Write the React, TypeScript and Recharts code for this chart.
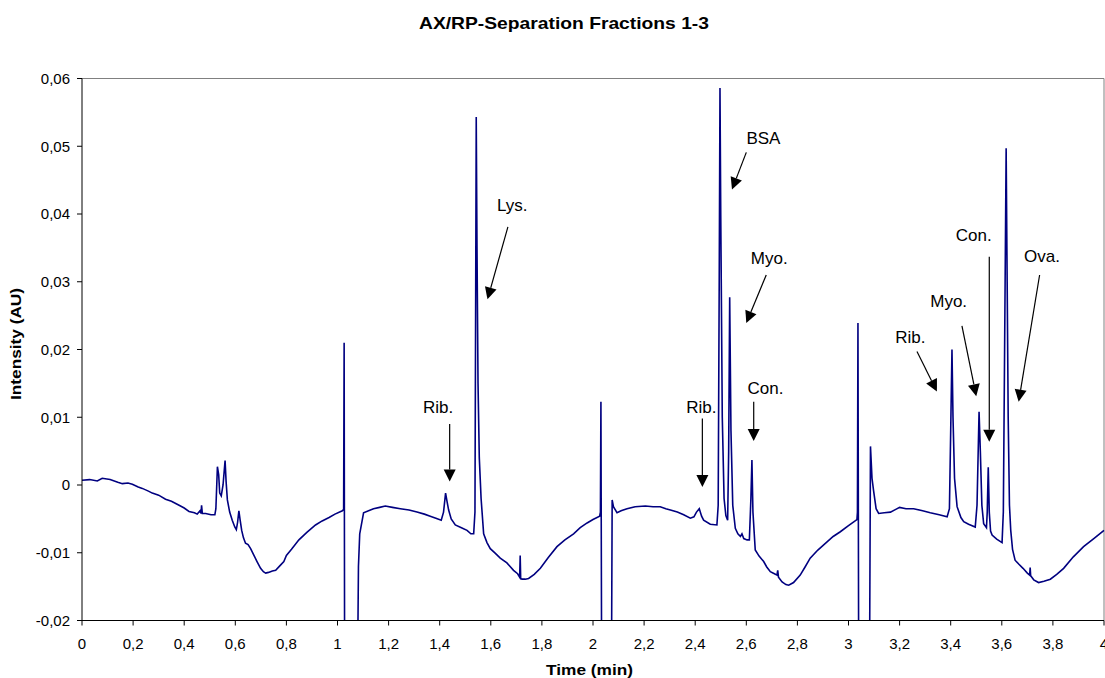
import React from 'react';
import { LineChart, Line, XAxis, YAxis, ReferenceLine, ReferenceDot } from 'recharts';

// [time (min), intensity (AU)], split at the injection spikes
const fraction1: [number, number][] = [
  [0, 0.0007], [0.03, 0.0008], [0.06, 0.0006], [0.079, 0.001], [0.11, 0.0008], [0.14, 0.0004],
  [0.158, 0.0002], [0.18, 0.0003], [0.197, 0.0001], [0.22, -0.0003], [0.236, -0.0005], [0.26, -0.0009],
  [0.275, -0.0012], [0.3, -0.0015], [0.327, -0.0021], [0.35, -0.0024], [0.38, -0.003], [0.4, -0.0034],
  [0.419, -0.0039], [0.44, -0.0041], [0.451, -0.0043], [0.462, -0.0038], [0.466, -0.0042], [0.468, -0.003],
  [0.471, -0.0042], [0.484, -0.0042], [0.505, -0.0044], [0.52, -0.0044], [0.524, -0.0035], [0.53, 0.0027],
  [0.535, 0.0015], [0.539, -0.0012], [0.545, -0.0016], [0.552, 0.0], [0.56, 0.0036], [0.564, 0.0005],
  [0.569, -0.0022], [0.578, -0.004], [0.588, -0.0052], [0.598, -0.0062], [0.604, -0.0066], [0.609, -0.0055],
  [0.614, -0.0038], [0.619, -0.0052], [0.625, -0.0067], [0.632, -0.0078], [0.64, -0.0086], [0.65, -0.0088],
  [0.66, -0.0094], [0.673, -0.0104], [0.685, -0.0113], [0.699, -0.0123], [0.71, -0.0128], [0.719, -0.013],
  [0.73, -0.0129], [0.745, -0.0127], [0.758, -0.0126], [0.775, -0.0119], [0.79, -0.0113], [0.8, -0.0104],
  [0.82, -0.0095], [0.849, -0.0081], [0.88, -0.007], [0.914, -0.0059], [0.94, -0.0053], [0.967, -0.0048],
  [0.99, -0.0043], [1.019, -0.0038], [1.024, -0.0036], [1.026, 0.021], [1.028, -0.03],
];

const fraction2: [number, number][] = [
  [1.078, -0.03], [1.082, -0.012], [1.087, -0.0072], [1.102, -0.0041], [1.141, -0.0035], [1.165, -0.0033],
  [1.187, -0.0031], [1.215, -0.0033], [1.246, -0.0035], [1.28, -0.0037], [1.311, -0.004], [1.34, -0.0043],
  [1.363, -0.0046], [1.385, -0.0049], [1.406, -0.0052], [1.415, -0.004], [1.423, -0.0012], [1.429, -0.0025],
  [1.435, -0.0037], [1.445, -0.005], [1.461, -0.0059], [1.485, -0.0063], [1.507, -0.0067], [1.522, -0.0072],
  [1.533, -0.0072], [1.538, -0.004], [1.541, 0.03], [1.543, 0.0543], [1.546, 0.035], [1.55, 0.015],
  [1.555, 0.004], [1.562, -0.002], [1.572, -0.0072], [1.585, -0.0085], [1.598, -0.0094], [1.618, -0.0101],
  [1.637, -0.0108], [1.663, -0.0115], [1.689, -0.0126], [1.705, -0.0131], [1.713, -0.0136], [1.715, -0.0104],
  [1.717, -0.0138], [1.722, -0.0139], [1.735, -0.0139], [1.748, -0.0138], [1.77, -0.0132], [1.794, -0.0123],
  [1.825, -0.0107], [1.859, -0.0091], [1.89, -0.0081], [1.924, -0.0072], [1.95, -0.0063], [1.977, -0.0056],
  [2.0, -0.0051], [2.026, -0.0046], [2.029, -0.004], [2.031, 0.0123], [2.034, -0.03],
];

const fraction3: [number, number][] = [
  [2.072, -0.03], [2.075, -0.0022], [2.08, -0.0032], [2.094, -0.0041], [2.11, -0.0038], [2.133, -0.0035],
  [2.165, -0.0032], [2.205, -0.0031], [2.235, -0.0032], [2.263, -0.0032], [2.285, -0.0035], [2.303, -0.0037],
  [2.33, -0.004], [2.355, -0.0044], [2.381, -0.0049], [2.395, -0.0047], [2.405, -0.004], [2.416, -0.0035],
  [2.425, -0.0046], [2.433, -0.0052], [2.459, -0.0058], [2.485, -0.0059], [2.49, -0.003], [2.494, 0.03],
  [2.497, 0.0586], [2.5, 0.04], [2.506, 0.01], [2.513, -0.002], [2.52, -0.0045], [2.527, -0.0052],
  [2.531, 0.005], [2.535, 0.0277], [2.54, 0.008], [2.547, -0.003], [2.557, -0.0064], [2.567, -0.0072],
  [2.577, -0.0076], [2.583, -0.0072], [2.59, -0.0079], [2.603, -0.0081], [2.612, -0.0081], [2.618, -0.002],
  [2.622, 0.0037], [2.626, -0.004], [2.635, -0.0096], [2.65, -0.0105], [2.668, -0.0113], [2.68, -0.0121],
  [2.694, -0.0128], [2.71, -0.0131], [2.72, -0.0133], [2.723, -0.0126], [2.726, -0.0136], [2.74, -0.0143],
  [2.755, -0.0147], [2.766, -0.0148], [2.785, -0.0144], [2.811, -0.0133], [2.83, -0.0121], [2.85, -0.0108],
  [2.88, -0.0096], [2.916, -0.0084], [2.94, -0.0076], [2.968, -0.0069], [3.0, -0.006], [3.033, -0.0051],
  [3.035, -0.004], [3.037, 0.0239], [3.04, -0.03],
];

const fraction4: [number, number][] = [
  [3.082, -0.03], [3.086, 0.0057], [3.092, 0.001], [3.098, -0.0008], [3.108, -0.0035], [3.118, -0.0042],
  [3.14, -0.0041], [3.164, -0.004], [3.185, -0.0036], [3.2, -0.0033], [3.225, -0.0035], [3.255, -0.0035],
  [3.29, -0.0038], [3.32, -0.0041], [3.355, -0.0044], [3.386, -0.0047], [3.395, -0.0035], [3.4, 0.008],
  [3.405, 0.02], [3.409, 0.01], [3.415, 0.001], [3.425, -0.0032], [3.44, -0.0048], [3.451, -0.0054],
  [3.47, -0.0058], [3.496, -0.0062], [3.503, -0.003], [3.511, 0.0108], [3.516, 0.005], [3.522, -0.003],
  [3.529, -0.0057], [3.54, -0.0063], [3.543, -0.004], [3.547, 0.0026], [3.551, -0.004], [3.556, -0.0068],
  [3.562, -0.0074], [3.58, -0.008], [3.601, -0.0085], [3.606, -0.004], [3.611, 0.02], [3.617, 0.0497],
  [3.621, 0.03], [3.625, 0.01], [3.63, -0.003], [3.635, -0.0067], [3.642, -0.0095], [3.652, -0.0111],
  [3.667, -0.0117], [3.683, -0.0123], [3.7, -0.013], [3.709, -0.0133], [3.711, -0.0122], [3.713, -0.0134],
  [3.725, -0.014], [3.744, -0.0144], [3.765, -0.0142], [3.79, -0.0139], [3.815, -0.0132], [3.842, -0.0123],
  [3.88, -0.0106], [3.92, -0.0091], [3.96, -0.0079], [4.0, -0.0067],
];

const xTicks = [0, 0.2, 0.4, 0.6, 0.8, 1, 1.2, 1.4, 1.6, 1.8, 2, 2.2, 2.4, 2.6, 2.8, 3, 3.2, 3.4, 3.6, 3.8, 4];
const yTicks = [-0.02, -0.01, 0, 0.01, 0.02, 0.03, 0.04, 0.05, 0.06];

// peak annotations: label centre, arrow tail, arrow tip (time, intensity)
const peakNotes = [
  { label: 'Rib.', text: [1.394, 0.0115], from: [1.439, 0.009], to: [1.439, 0.0005] },
  { label: 'Lys.', text: [1.684, 0.0412], from: [1.667, 0.0381], to: [1.587, 0.0274] },
  { label: 'BSA', text: [2.667, 0.0511], from: [2.6, 0.0491], to: [2.544, 0.0436] },
  { label: 'Myo.', text: [2.69, 0.0335], from: [2.678, 0.031], to: [2.6, 0.0239] },
  { label: 'Con.', text: [2.675, 0.0143], from: [2.629, 0.0123], to: [2.629, 0.0065] },
  { label: 'Rib.', text: [2.424, 0.0115], from: [2.428, 0.0098], to: [2.428, -0.0003] },
  { label: 'Rib.', text: [3.242, 0.0218], from: [3.268, 0.0197], to: [3.346, 0.0138] },
  { label: 'Myo.', text: [3.392, 0.0271], from: [3.444, 0.0235], to: [3.5, 0.0131] },
  { label: 'Con.', text: [3.49, 0.0369], from: [3.551, 0.0337], to: [3.551, 0.0064] },
  { label: 'Ova.', text: [3.757, 0.0337], from: [3.748, 0.031], to: [3.666, 0.0123] },
];

const data = [...fraction1, ...fraction2, ...fraction3, ...fraction4].map(([t, v]) => ({ t, v }));

const FONT = '"Liberation Sans", Arial, sans-serif';
const W = 1105;
const H = 678;

const fmt = (v: number) => String(v).replace('.', ',');

function Arrow(props: any) {
  const { x1, y1, x2, y2 } = props;
  const dx = x2 - x1;
  const dy = y2 - y1;
  const len = Math.sqrt(dx * dx + dy * dy) || 1;
  const ux = dx / len;
  const uy = dy / len;
  const head = 12;
  const half = 6;
  const bx = x2 - ux * head;
  const by = y2 - uy * head;
  return (
    <g>
      <line x1={x1} y1={y1} x2={bx} y2={by} stroke="#000" strokeWidth={1.2} />
      <polygon
        points={`${x2},${y2} ${bx - uy * half},${by + ux * half} ${bx + uy * half},${by - ux * half}`}
        fill="#000"
      />
    </g>
  );
}

export default function App() {
  const tickStyle = { fontSize: 15, fill: '#000', fontFamily: FONT };
  return (
    <div style={{ position: 'absolute', left: 0, top: 0, width: W, height: H, background: '#fff' }}>
      <LineChart width={W} height={H} data={data} margin={{ top: 78.5, right: 1, bottom: 27.5, left: 0 }}>
        <XAxis
          dataKey="t"
          type="number"
          domain={[0, 4]}
          ticks={xTicks}
          interval={0}
          tickFormatter={fmt}
          tick={tickStyle}
          tickSize={5}
          tickMargin={13}
          height={30}
          axisLine={{ stroke: '#000' }}
          tickLine={{ stroke: '#000' }}
        />
        <YAxis
          type="number"
          domain={[-0.02, 0.06]}
          allowDataOverflow
          ticks={yTicks}
          interval={0}
          tickFormatter={fmt}
          tick={tickStyle}
          tickSize={5}
          tickMargin={7}
          width={82}
          axisLine={{ stroke: '#000' }}
          tickLine={{ stroke: '#000' }}
        />
        <ReferenceLine y={0.06} stroke="#808080" strokeWidth={1} />
        <ReferenceLine x={4} stroke="#808080" strokeWidth={1} />
        <Line
          dataKey="v"
          type="linear"
          stroke="#000080"
          strokeWidth={1.6}
          dot={false}
          isAnimationActive={false}
        />
        {peakNotes.map((n, i) => (
          <ReferenceLine
            key={'a' + i}
            segment={[{ x: n.from[0], y: n.from[1] }, { x: n.to[0], y: n.to[1] }]}
            shape={(p: any) => <Arrow {...p} />}
          />
        ))}
        {peakNotes.map((n, i) => (
          <ReferenceDot
            key={'t' + i}
            x={n.text[0]}
            y={n.text[1]}
            r={0}
            shape={(p: any) => (
              <text
                x={p.cx}
                y={p.cy}
                textAnchor="middle"
                dominantBaseline="central"
                fontSize={17}
                fontFamily={FONT}
                fill="#000"
              >
                {n.label}
              </text>
            )}
          />
        ))}
      </LineChart>
      <svg
        width={W}
        height={H}
        style={{ position: 'absolute', left: 0, top: 0, pointerEvents: 'none' }}
      >
        <text
          x={564}
          y={29}
          textAnchor="middle"
          fontWeight="bold"
          fontSize={16.5}
          fontFamily={FONT}
          textLength={290}
          lengthAdjust="spacingAndGlyphs"
        >
          AX/RP-Separation Fractions 1-3
        </text>
        <text
          x={589.5}
          y={675}
          textAnchor="middle"
          fontWeight="bold"
          fontSize={14.5}
          fontFamily={FONT}
          textLength={87}
          lengthAdjust="spacingAndGlyphs"
        >
          Time (min)
        </text>
        <text
          transform="translate(21,344) rotate(-90)"
          textAnchor="middle"
          fontWeight="bold"
          fontSize={14.5}
          fontFamily={FONT}
          textLength={112}
          lengthAdjust="spacingAndGlyphs"
        >
          Intensity (AU)
        </text>
      </svg>
    </div>
  );
}
